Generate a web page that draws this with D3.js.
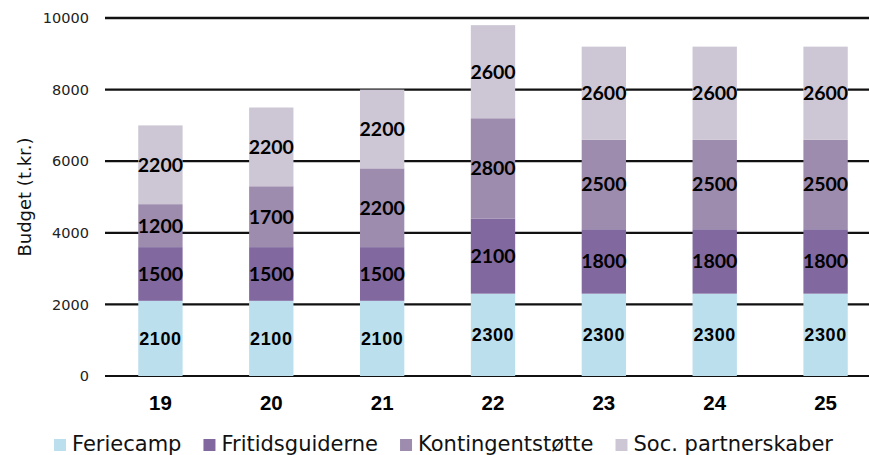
<!DOCTYPE html>
<html>
<head>
<meta charset="utf-8">
<script src="https://cdn.jsdelivr.net/npm/d3@7"></script>
<style>
  html, body { margin: 0; padding: 0; background: #fff; }
  svg { display: block; }
</style>
</head>
<body>
<svg id="chart" width="869" height="455"></svg>
<script>
const categories = ["19", "20", "21", "22", "23", "24", "25"];
const seriesNames = ["Feriecamp", "Fritidsguiderne", "Kontingentstøtte", "Soc. partnerskaber"];
const feriecamp = [2100, 2100, 2100, 2300, 2300, 2300, 2300];
const fritidsguiderne = [1500, 1500, 1500, 2100, 1800, 1800, 1800];
const kontingentstotte = [1200, 1700, 2200, 2800, 2500, 2500, 2500];
const socPartnerskaber = [2200, 2200, 2200, 2600, 2600, 2600, 2600];
const yTicks = [0, 2000, 4000, 6000, 8000, 10000];
const colors = ["#bcdfee", "#8169a0", "#9d8cae", "#cdc7d5"];

const seriesValues = [feriecamp, fritidsguiderne, kontingentstotte, socPartnerskaber];
const table = categories.map((c, i) => {
  const row = { cat: c };
  seriesNames.forEach((s, j) => row[s] = seriesValues[j][i]);
  return row;
});
const stacked = d3.stack().keys(seriesNames)(table);

const svg = d3.select("#chart");
const W = 869;
const x = d3.scaleBand().domain(categories).range([105, 881]).paddingInner(0.6).paddingOuter(0.3);
const y = d3.scaleLinear().domain([0, 10000]).range([376, 18]);

// gridlines
svg.append("g").selectAll("line").data(yTicks).join("line")
  .attr("x1", 105).attr("x2", W)
  .attr("y1", d => y(d)).attr("y2", d => y(d))
  .attr("stroke", "#111").attr("stroke-width", d => d === 10000 ? 2.6 : 2.2);

// y tick labels
svg.append("g").selectAll("text").data(yTicks).join("text")
  .attr("x", 89).attr("y", d => y(d)).attr("dy", "0.36em")
  .attr("text-anchor", "end")
  .style("font-family", "'DejaVu Sans', sans-serif")
  .style("font-size", "14.5px").style("fill", "#222")
  .text(d => d);

// bars
const layers = svg.append("g").selectAll("g").data(stacked).join("g")
  .attr("fill", (d, i) => colors[i]);
layers.selectAll("rect").data(d => d).join("rect")
  .attr("x", d => x(d.data.cat))
  .attr("width", x.bandwidth())
  .attr("y", d => y(d[1]))
  .attr("height", d => y(d[0]) - y(d[1]));

// value labels
stacked.forEach((layer, li) => {
  svg.append("g").selectAll("text").data(layer).join("text")
    .attr("x", d => x(d.data.cat) + x.bandwidth() / 2)
    .attr("y", d => (y(d[0]) + y(d[1])) / 2)
    .attr("dy", "0.36em")
    .attr("text-anchor", "middle")
    .style("font-family", li === 0 ? "'Liberation Sans', Arial, sans-serif" : "Lato, 'Liberation Sans', sans-serif")
    .style("font-weight", "bold")
    .style("font-size", li === 0 ? "18px" : "19.5px")
    .style("letter-spacing", li === 0 ? "0.6px" : "0px")
    .style("fill", "#000")
    .text(d => d[1] - d[0]);
});

// x axis labels
svg.append("g").selectAll("text").data(categories).join("text")
  .attr("x", d => x(d) + x.bandwidth() / 2)
  .attr("y", 410)
  .attr("text-anchor", "middle")
  .style("font-family", "'Liberation Sans', Arial, sans-serif")
  .style("font-weight", "bold").style("font-size", "20.5px").style("fill", "#000")
  .text(d => d);

// y axis title
svg.append("text")
  .attr("transform", `translate(31,${(y(0) + y(10000)) / 2}) rotate(-90)`)
  .attr("text-anchor", "middle")
  .style("font-family", "'DejaVu Sans', sans-serif")
  .style("font-size", "18px").style("fill", "#111")
  .text("Budget (t.kr.)");

// legend
const legend = svg.append("g");
let lx = 54;
seriesNames.forEach((s, i) => {
  legend.append("rect").attr("x", lx).attr("y", 439).attr("width", 12).attr("height", 12).attr("fill", colors[i]);
  const t = legend.append("text").attr("x", lx + 18).attr("y", 451)
    .style("font-family", "'DejaVu Sans', sans-serif")
    .style("font-size", "21px").style("fill", "#111")
    .text(s);
  lx += 18 + t.node().getComputedTextLength() + 22;
});
</script>
</body>
</html>
